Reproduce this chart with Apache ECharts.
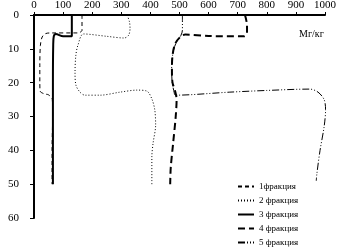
<!DOCTYPE html>
<html><head><meta charset="utf-8">
<script src="https://cdn.jsdelivr.net/npm/echarts@6/dist/echarts.min.js"></script>
<style>html,body{margin:0;padding:0;background:#fff}#c{width:337px;height:250px}</style>
</head><body><div id="c"></div>
<script>
// Each series: [value mg/kg, depth cm]
const names = ['1фракция', '2 фракция', '3 фракция', '4 фракция', '5 фракция'];
const xTicks = [0, 100, 200, 300, 400, 500, 600, 700, 800, 900, 1000];
const yTicks = [0, 10, 20, 30, 40, 50, 60];
const frac1 = [[165,0],[165,4.5],[150,5.3],[60,5.3],[40,5.5],[28,6.5],[22,9],[20,15],[20,20],[21,22.5],[35,23.3],[50,23.6],[63,25],[64,30],[62,40],[62,50]];
const frac2 = [[320,0],[328,2],[330,4],[325,6],[310,6.8],[250,6.3],[170,5.6],[151,8.9],[144,11.8],[141,16.9],[144,20.7],[158,22.8],[175,23.7],[227,23.7],[296,22.8],[354,22.2],[388,22.5],[405,24.8],[415,28],[418,32.5],[409,38],[405,42],[405,50]];
const frac3 = [[130,0],[130,6.3],[100,6.3],[75,5.6],[68,6.3],[66,9],[65,20],[65,50]];
const frac4 = [[725,0],[732,3],[732,5.2],[722,6.3],[600,6.2],[520,5.8],[505,6.3],[485,8.5],[476,12],[474,16],[476,20],[485,22.5],[490,25],[487,30],[478,38],[470,45],[468,50]];
const frac5 = [[510,0],[510,4.5],[505,6],[488,8.3],[478,11],[473,16],[475,20],[482,23],[485,23.7],[673,22.8],[800,22.3],[948,21.9],[976,22.8],[997,25],[1002,28],[997,33],[983,40],[972,47],[970,49]];

const chart = echarts.init(document.getElementById('c'), null, {renderer: 'canvas'});
const serif = 'Liberation Serif';
const mk = (name, data, w, type) => ({
  name, type: 'line', data, symbol: 'none', smooth: 0.3, animation: false,
  lineStyle: {color: '#000', width: w, type: type}, itemStyle: {color: '#000'}
});
chart.setOption({
  animation: false,
  backgroundColor: '#fff',
  grid: {left: 34, right: 12, top: 15, bottom: 32, outerBoundsMode: 'none', containLabel: false},
  xAxis: {
    type: 'value', position: 'top', min: xTicks[0], max: xTicks[xTicks.length - 1], interval: 100,
    axisLine: {lineStyle: {color: '#000', width: 2}},
    axisTick: {show: true, length: 3, lineStyle: {color: '#000', width: 1}},
    axisLabel: {show: true, color: '#000', fontFamily: serif, fontSize: 11, margin: 4, hideOverlap: false,
      formatter: v => String(v)},
    splitLine: {show: false}
  },
  yAxis: {
    type: 'value', inverse: true, min: yTicks[0], max: yTicks[yTicks.length - 1], interval: 10,
    name: 'Глубина, см', nameLocation: 'middle', nameGap: 27,
    nameTextStyle: {color: '#000', fontFamily: serif, fontSize: 10},
    axisLine: {lineStyle: {color: '#000', width: 2}},
    axisTick: {show: true, length: 4, lineStyle: {color: '#000', width: 1}},
    axisLabel: {color: '#000', fontFamily: serif, fontSize: 11, margin: 15, formatter: v => String(v)},
    splitLine: {show: false}
  },
  legend: {
    orient: 'vertical', left: 237, top: 182, padding: 0, itemWidth: 16, itemHeight: 8, itemGap: 5,
    textStyle: {color: '#000', fontFamily: serif, fontSize: 9},
    itemStyle: {color: 'transparent', borderColor: 'transparent', borderWidth: 0},
    data: names
  },
  graphic: [{type: 'text', left: 299, top: 29, style: {text: 'Мг/кг', font: '10px "Liberation Serif"', fill: '#000'}}],
  series: [
    mk(names[0], frac1, 1, [4, 3]),
    mk(names[1], frac2, 1, [1, 2]),
    mk(names[2], frac3, 2, 'solid'),
    mk(names[3], frac4, 2, [7, 4]),
    mk(names[4], frac5, 1, [7, 2, 1, 2, 1, 2])
  ]
});
</script></body></html>
